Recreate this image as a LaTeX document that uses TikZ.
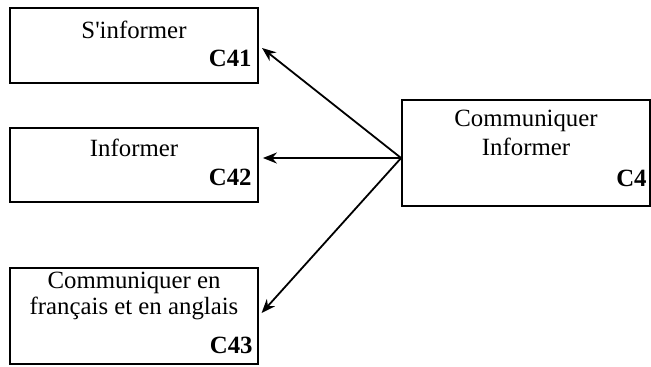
\documentclass[tikz,border=0pt]{standalone}
\usepackage{fontspec}
\setmainfont{Liberation Serif}
\usepackage{tikz}
\usetikzlibrary{arrows.meta,positioning,calc}

\begin{document}
\begin{tikzpicture}[x=0.5pt, y=-0.5pt,
    compbox/.style={rectangle, draw=black, line width=0.9pt, inner sep=0pt},
    title/.style={font=\fontsize{12.4}{14}\selectfont, align=center, inner sep=0pt, anchor=north},
    code/.style={font=\fontsize{12.4}{14}\selectfont\bfseries, inner sep=0pt, anchor=base east},
    link/.style={-{Stealth[length=7pt,width=5.5pt]}, line width=0.9pt, shorten >=2pt}
]
    \useasboundingbox (0,0) rectangle (651,366);
    % competences
    \node[compbox, minimum width=124pt, minimum height=37.5pt] (c41) at (134,45.5) {};
    \node[title] (t41) at (134,21) {S\textquotesingle informer};
    \node[code] (k41) at (252,66.7) {C41};
    \node[compbox, minimum width=124pt, minimum height=37pt] (c42) at (134,165) {};
    \node[title] (t42) at (134,139) {Informer};
    \node[code] (k42) at (252,185) {C42};
    \node[compbox, minimum width=124pt, minimum height=48pt] (c43) at (134,316) {};
    \node[title, font=\fontsize{12.4}{12.8}\selectfont] (t43) at (134,272) {Communiquer en\\fran\c{c}ais et en anglais};
    \node[code] (k43) at (253,353) {C43};
    \node[compbox, minimum width=124pt, minimum height=53pt] (c4) at (526,153) {};
    \node[title, font=\fontsize{12.4}{14.5}\selectfont] (t4) at (526,110) {Communiquer\\Informer};
    \node[code] (k4) at (647,186) {C4};
    % links
    \coordinate (hub) at ($(c4.west)+(0,-2.5pt)$);
    \draw[link] (hub) -- (c41.east);
    \draw[link] (hub) -- (hub -| c42.east);
    \draw[link] (hub) -- (c43.east);
\end{tikzpicture}
\end{document}
